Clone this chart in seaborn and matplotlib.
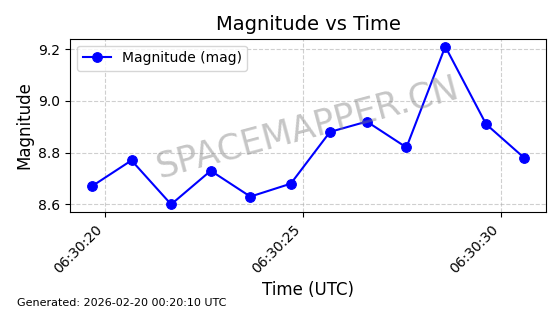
import matplotlib
matplotlib.use("Agg")
import matplotlib.pyplot as plt
import matplotlib.dates as mdates
import seaborn as sns
import pandas as pd

seconds = [19.67, 20.67, 21.67, 22.67, 23.67, 24.69, 25.68, 26.61, 27.61, 28.59, 29.62, 30.58]
magnitudes = [8.67, 8.77, 8.60, 8.73, 8.63, 8.68, 8.88, 8.92, 8.82, 9.21, 8.91, 8.78]

base = pd.Timestamp("2026-02-20 06:30:00")
times = [base + pd.Timedelta(seconds=s) for s in seconds]
df = pd.DataFrame({"time": times, "mag": magnitudes})

fig, ax = plt.subplots(figsize=(5.6, 3.14), dpi=100)
sns.lineplot(data=df, x="time", y="mag", ax=ax, color="blue", marker="o",
             markersize=7, markeredgecolor="blue", linewidth=1.5,
             label="Magnitude (mag)")
ax.set_title("Magnitude vs Time", fontsize=14)
ax.set_xlabel("Time (UTC)", fontsize=12)
ax.set_ylabel("Magnitude", fontsize=12)
ax.xaxis.set_major_locator(mdates.SecondLocator(bysecond=range(0, 60, 5)))
ax.xaxis.set_major_formatter(mdates.DateFormatter("%H:%M:%S"))
plt.setp(ax.get_xticklabels(), rotation=45, ha="right")
ax.grid(True, linestyle="--", alpha=0.6)
ax.legend(loc="upper left")
ax.text(0.5, 0.49, "SPACEMAPPER.CN", transform=ax.transAxes, fontsize=25,
        color="gray", alpha=0.45, rotation=15, ha="center", va="center")
fig.text(0.03, 0.025, "Generated: 2026-02-20 00:20:10 UTC", fontsize=8)
fig.subplots_adjust(left=0.1255, right=0.9745, top=0.877, bottom=0.324)
fig.savefig("out.png", dpi=100)
